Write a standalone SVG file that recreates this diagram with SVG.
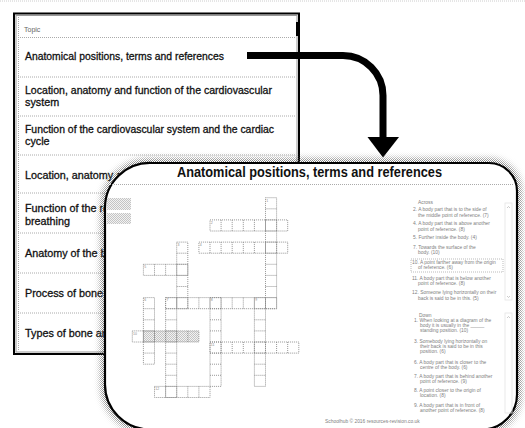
<svg xmlns="http://www.w3.org/2000/svg" width="525" height="428" viewBox="0 0 525 428">
<style>
.row{font-family:"Liberation Sans",Arial,sans-serif;font-size:10.8px;fill:#111;stroke:#111;stroke-width:0.3}
.div{stroke:#aaa;stroke-width:1;stroke-dasharray:1 1;fill:none}
.clue{font-family:"Liberation Sans",Arial,sans-serif;font-size:4.9px;fill:#808080}
.num{font-family:"Liberation Sans",Arial,sans-serif;font-size:3.5px;fill:#888}
.grid{fill:none;stroke:#888;stroke-width:0.08;stroke-dasharray:0.09 0.09}
</style>
<defs>
<pattern id="dith" width="2" height="2" patternUnits="userSpaceOnUse"><rect width="1" height="1" fill="#555"/><rect x="1" y="1" width="1" height="1" fill="#555"/></pattern>
<pattern id="dith2" width="2" height="2" patternUnits="userSpaceOnUse"><rect width="2" height="2" fill="#f2f2f2"/><rect width="1" height="1" fill="#c4c4c4"/><rect x="1" y="1" width="1" height="1" fill="#c4c4c4"/></pattern>
<filter id="blur" x="-10%" y="-10%" width="120%" height="120%"><feGaussianBlur stdDeviation="3.5"/></filter>
<mask id="sm" maskUnits="userSpaceOnUse" x="0" y="0" width="525" height="428">
<path d="M152 163H489A28 28 0 0 1 517 191V394A35 35 0 0 1 482 429.5H150A45 45 0 0 1 105 384.5V208A45 45 0 0 1 152 163Z" fill="white" stroke="white" stroke-width="8" filter="url(#blur)"/>
</mask>
</defs>
<rect width="525" height="428" fill="#fff"/>
<line x1="0" y1="1" x2="525" y2="1" stroke="#ccc" stroke-width="1" stroke-dasharray="1 1"/>

<g id="table">
<rect x="14" y="13.5" width="285" height="340.5" fill="#fff" stroke="#000" stroke-width="2"/>
<rect x="16" y="15.5" width="281" height="336.5" fill="none" stroke="#999" stroke-width="1"/>
<rect x="296" y="22" width="3.5" height="14" fill="#000"/>
<line class="div" x1="18.5" y1="17" x2="18.5" y2="351"/>
<line class="div" x1="18" y1="37.5" x2="296" y2="37.5"/>
<line class="div" x1="18" y1="77" x2="296" y2="77"/>
<line class="div" x1="18" y1="116" x2="296" y2="116"/>
<line class="div" x1="18" y1="155" x2="296" y2="155"/>
<line class="div" x1="18" y1="193" x2="296" y2="193"/>
<line class="div" x1="18" y1="233" x2="296" y2="233"/>
<line class="div" x1="18" y1="273" x2="296" y2="273"/>
<line class="div" x1="18" y1="313" x2="296" y2="313"/>
<text x="24" y="32" font-family="Liberation Sans, Arial, sans-serif" font-size="7" fill="#666">Topic</text>
<text class="row" x="25" y="60" textLength="199" lengthAdjust="spacingAndGlyphs">Anatomical positions, terms and references</text>
<text class="row" x="25" y="93.5" textLength="247" lengthAdjust="spacingAndGlyphs">Location, anatomy and function of the cardiovascular</text>
<text class="row" x="25" y="106">system</text>
<text class="row" x="25" y="132.5" textLength="249" lengthAdjust="spacingAndGlyphs">Function of the cardiovascular system and the cardiac</text>
<text class="row" x="25" y="145">cycle</text>
<text class="row" x="25" y="179">Location, anatomy a</text>
<text class="row" x="25" y="211.5">Function of the re</text>
<text class="row" x="25" y="224.5">breathing</text>
<text class="row" x="25" y="257">Anatomy of the b</text>
<text class="row" x="25" y="297">Process of bone g</text>
<text class="row" x="25" y="337">Types of bone an</text>
</g>

<g id="connectors">
<path d="M247 55.5H343A40 40 0 0 1 383 95.5V139" fill="none" stroke="#000" stroke-width="7"/>
<polygon points="367.5,137 399,137 383,157.5" fill="#000"/>
</g>

<g id="callout">
<rect x="0" y="0" width="525" height="428" fill="url(#dith)" mask="url(#sm)"/>
<path d="M152 163H489A28 28 0 0 1 517 191V394A35 35 0 0 1 482 429.5H150A45 45 0 0 1 105 384.5V208A45 45 0 0 1 152 163Z" fill="#fff" stroke="#000" stroke-width="2.2"/>
<text x="177" y="177" font-family="Liberation Sans, Arial, sans-serif" font-size="14" font-weight="bold" fill="#111" textLength="265" lengthAdjust="spacingAndGlyphs">Anatomical positions, terms and references</text>
<line class="div" x1="110" y1="184.5" x2="513" y2="184.5"/>
<rect x="107" y="198" width="24" height="12" fill="url(#dith2)"/>
<rect x="107" y="213" width="24" height="11" fill="url(#dith2)"/>

<rect x="143.4" y="330.9" width="55.5" height="11.1" fill="url(#dith2)"/>
<g transform="translate(132.3 197.7) scale(11.1)">
<path class="grid" d="M12 0h1v10h-1zM12 1h1M12 2h1M12 3h1M12 4h1M12 5h1M12 6h1M12 7h1M12 8h1M12 9h1
M7 2h7v1h-7zM8 2v1M9 2v1M10 2v1M11 2v1M12 2v1M13 2v1
M6 4h8v1h-8zM7 4v1M8 4v1M9 4v1M10 4v1M11 4v1M12 4v1M13 4v1
M4 4h1v6h-1zM4 5h1M4 6h1M4 7h1M4 8h1M4 9h1
M1 6h4v1h-4zM2 6v1M3 6v1M4 6v1
M3 9h10v1h-10zM4 9v1M5 9v1M6 9v1M7 9v1M8 9v1M9 9v1M10 9v1M11 9v1M12 9v1
M1 9h1v6h-1zM1 10h1M1 11h1M1 12h1M1 13h1M1 14h1
M3 9h1v9h-1zM3 10h1M3 11h1M3 12h1M3 13h1M3 14h1M3 15h1M3 16h1M3 17h1
M7 9h1v8h-1zM7 10h1M7 11h1M7 12h1M7 13h1M7 14h1M7 15h1M7 16h1
M11 9h1v8h-1zM11 10h1M11 11h1M11 12h1M11 13h1M11 14h1M11 15h1M11 16h1
M0 12h6v1h-6zM1 12v1M2 12v1M3 12v1M4 12v1M5 12v1
M7 13h8v1h-8zM8 13v1M9 13v1M10 13v1M11 13v1M12 13v1M13 13v1M14 13v1
M2 17h5v1h-5zM3 17v1M4 17v1M5 17v1M6 17v1"/>
</g>
<text class="num" x="266.3" y="201.5">1</text>
<text class="num" x="210.8" y="223.7">2</text>
<text class="num" x="177.5" y="245.9">3</text>
<text class="num" x="199.7" y="245.9">4</text>
<text class="num" x="144.2" y="268.1">5</text>
<text class="num" x="144.2" y="301.4">6</text>
<text class="num" x="166.4" y="301.4">7</text>
<text class="num" x="210.8" y="301.4">8</text>
<text class="num" x="255.2" y="301.4">9</text>
<text class="num" x="133.1" y="334.7">10</text>
<text class="num" x="210.8" y="345.8">11</text>
<text class="num" x="155.3" y="390.2">12</text>

<text class="clue" x="418" y="203.5">Across</text>
<text class="clue" x="413" y="211">2. A body part that is to the side of</text>
<text class="clue" x="418" y="216.5">the middle point of reference. (7)</text>
<text class="clue" x="413" y="225">4. A body part that is above another</text>
<text class="clue" x="418" y="230.5">point of reference. (8)</text>
<text class="clue" x="413" y="239">5. Further inside the body. (4)</text>
<text class="clue" x="413" y="249">7. Towards the surface of the</text>
<text class="clue" x="418" y="254">body. (10)</text>
<rect x="411" y="259" width="92" height="13" fill="none" stroke="#aaa" stroke-width="0.8" stroke-dasharray="1 1"/>
<text class="clue" x="412" y="263.5">10. A point farther away from the origin</text>
<text class="clue" x="418" y="269">of reference. (6)</text>
<text class="clue" x="412" y="279.5">11. A body part that is below another</text>
<text class="clue" x="418" y="285">point of reference. (8)</text>
<text class="clue" x="412" y="294">12. Someone lying horizontally on their</text>
<text class="clue" x="418" y="299.5">back is said to be in this. (5)</text>
<rect x="505" y="203" width="7" height="97" fill="none" stroke="#e4e4e4" stroke-width="0.8"/>
<path d="M507 208l1.5-1.5 1.5 1.5M507 296l1.5 1.5 1.5-1.5" fill="none" stroke="#aaa" stroke-width="0.6"/>

<text class="clue" x="419" y="316.5">Down</text>
<text class="clue" x="414" y="322">1. When looking at a diagram of the</text>
<text class="clue" x="420" y="327">body it is usually in the _____</text>
<text class="clue" x="420" y="332">standing position. (10)</text>
<text class="clue" x="414" y="342.5">3. Somebody lying horizontally on</text>
<text class="clue" x="420" y="347.5">their back is said to be in this</text>
<text class="clue" x="420" y="352.5">position. (6)</text>
<text class="clue" x="414" y="363.5">6. A body part that is closer to the</text>
<text class="clue" x="420" y="368.5">centre of the body. (6)</text>
<text class="clue" x="414" y="377.5">7. A body part that is behind another</text>
<text class="clue" x="420" y="382.5">point of reference. (9)</text>
<text class="clue" x="414" y="391.5">8. A point closer to the origin of</text>
<text class="clue" x="420" y="396.5">location. (8)</text>
<text class="clue" x="414" y="406.5">9. A body part that is in front of</text>
<text class="clue" x="420" y="411.5">another point of reference. (8)</text>
<rect x="505" y="313" width="7" height="100" fill="none" stroke="#e4e4e4" stroke-width="0.8"/>
<path d="M507 318l1.5-1.5 1.5 1.5" fill="none" stroke="#aaa" stroke-width="0.6"/>
<text class="clue" x="325" y="423" font-size="4">Schoolhub © 2016 resources-revision.co.uk</text>
</g>
</svg>
